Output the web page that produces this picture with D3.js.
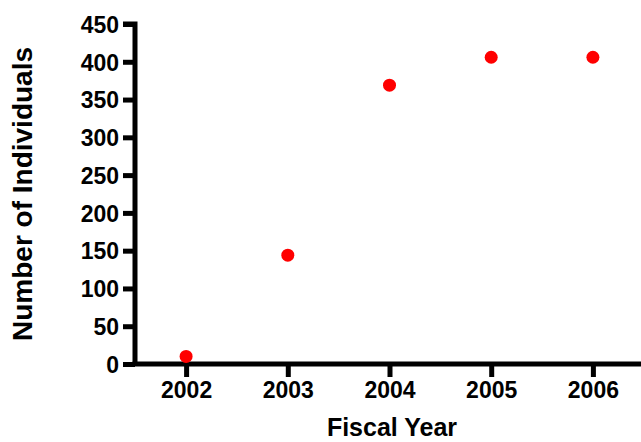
<!DOCTYPE html>
<html><head><meta charset="utf-8">
<script src="https://cdn.jsdelivr.net/npm/d3@7/dist/d3.min.js"></script>
<style>body{margin:0;background:#fff}svg{display:block}</style>
</head><body>
<script>
const years = [2002, 2003, 2004, 2005, 2006];
const individuals = [10, 144, 369, 406, 406];
const yTicks = [0, 50, 100, 150, 200, 250, 300, 350, 400, 450];

const W = 641, H = 442;
const svg = d3.select("body").append("svg").attr("width", W).attr("height", H);
const font = "'Liberation Sans', Arial, sans-serif";

const x = d3.scaleLinear().domain([2001.5, 2006.5]).range([135.25, 643.75]);
const y = d3.scaleLinear().domain([0, 450]).range([364, 24]);

const yAxis = svg.append("g").attr("transform", "translate(135,0)")
  .call(d3.axisLeft(y).tickValues(yTicks).tickSize(12).tickPadding(4).tickFormat(d3.format("d")));
const xAxis = svg.append("g").attr("transform", "translate(0,364)")
  .call(d3.axisBottom(x).tickValues(years).tickSize(13).tickPadding(5).tickFormat(d3.format("d")));

[yAxis, xAxis].forEach(g => {
  g.select(".domain").attr("stroke", "#000").attr("stroke-width", 5);
  g.selectAll(".tick line").attr("stroke", "#000").attr("stroke-width", 5);
  g.selectAll(".tick text").attr("fill", "#000").style("font-family", font)
    .style("font-size", "23px").style("font-weight", "bold");
});
yAxis.select(".domain").attr("d", `M-12,${y(450)}H0V${y(0)}`);
xAxis.select(".domain").attr("d", `M132.5,0H641`);
yAxis.selectAll(".tick text").attr("dy", "0.36em");

svg.selectAll("circle.pt").data(years).join("circle").attr("class", "pt")
  .attr("cx", d => x(d)).attr("cy", (d, i) => y(individuals[i])).attr("r", 6.5)
  .attr("fill", "#ff0000");

svg.append("text").attr("x", 392).attr("y", 436).attr("text-anchor", "middle")
  .style("font-family", font).style("font-size", "25px").style("font-weight", "bold")
  .text("Fiscal Year");
svg.append("text").attr("transform", "translate(32,194) rotate(-90)").attr("text-anchor", "middle")
  .style("font-family", font).style("font-size", "28px").style("font-weight", "bold")
  .text("Number of Individuals");
</script>
</body></html>
